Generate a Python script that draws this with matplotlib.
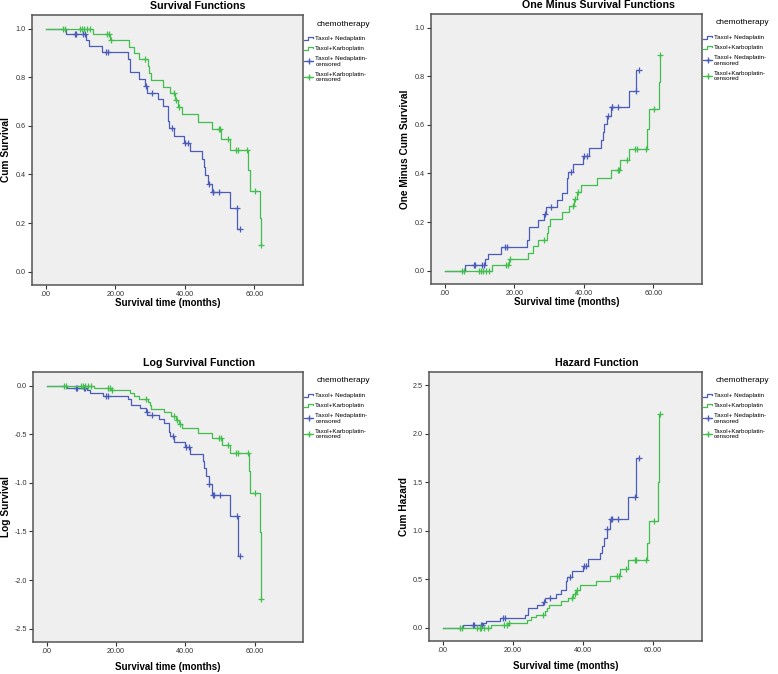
import numpy as np
import matplotlib
matplotlib.use("Agg")
import matplotlib.pyplot as plt
from matplotlib.lines import Line2D
from matplotlib.legend_handler import HandlerBase

plt.rcParams['font.family'] = ['Liberation Sans', 'DejaVu Sans']

# ---------------- data ----------------
groups = ["Taxol+ Nedaplatin", "Taxol+Karboplatin"]

ned_event_t = [5.8, 11.6, 12.4, 16.2, 23.6, 24.3, 26.9, 28.7, 29.1, 32.4, 33.8,
               35.3, 35.6, 36.9, 39.9, 41.5, 45.0, 45.4, 45.9, 46.8, 47.8, 53.0, 55.1]
ned_event_s = [0.977, 0.953, 0.930, 0.903, 0.873, 0.820, 0.792, 0.765, 0.737, 0.709, 0.680,
               0.620, 0.593, 0.560, 0.530, 0.495, 0.462, 0.429, 0.396, 0.362, 0.326, 0.261, 0.174]
ned_censor_t = [8.5, 8.8, 10.8, 11.2, 17.2, 17.8, 28.9, 30.5, 36.4, 40.2, 41.0,
                46.9, 48.0, 48.2, 49.9, 54.9, 55.9]

kar_event_t = [13.7, 18.6, 24.0, 25.3, 26.7, 29.3, 29.7, 30.2, 33.8, 35.8, 37.2,
               38.1, 39.1, 43.7, 47.7, 50.5, 53.0, 58.3, 58.8, 61.5, 61.8]
kar_event_s = [0.977, 0.952, 0.926, 0.899, 0.873, 0.845, 0.817, 0.789, 0.760, 0.733, 0.706,
               0.677, 0.647, 0.617, 0.586, 0.545, 0.500, 0.417, 0.333, 0.222, 0.111]
kar_censor_t = [4.9, 5.6, 9.9, 10.5, 11.0, 11.9, 12.8, 17.6, 18.2, 18.9, 28.6, 36.9,
                37.6, 38.4, 49.8, 50.2, 52.3, 54.8, 55.3, 58.0, 60.2, 62.0]

x_ticks = [0, 20, 40, 60]
x_ticklabels = [".00", "20.00", "40.00", "60.00"]

W, H = 778, 674
BLUE = '#4a5cb8'
GREEN = '#40bf4c'


def step_at(t_events, s_events, t):
    s = 1.0
    for te, se in zip(t_events, s_events):
        if te <= t:
            s = se
    return s


def curve(t_events, s_events, t_end):
    t = [0.0] + list(t_events) + [t_end]
    s = [1.0] + list(s_events) + [s_events[-1]]
    return np.array(t), np.array(s)


transforms = {
    "surv": lambda s: s,
    "one": lambda s: 1 - s,
    "log": lambda s: np.log(s),
    "haz": lambda s: -np.log(s),
}

panels = [
    ("surv", "Survival Functions", "Cum Survival", (32, 15, 303, 285), (-0.055, 1.056),
     [0, 0.2, 0.4, 0.6, 0.8, 1.0], (198, 6), 6, 303),
    ("one", "One Minus Survival Functions", "One Minus Cum Survival", (431, 14, 702, 284),
     (-0.055, 1.056), [0, 0.2, 0.4, 0.6, 0.8, 1.0], (598, 5), 405, 302),
    ("log", "Log Survival Function", "Log Survival", (33, 372, 303, 642), (-2.637, 0.141),
     [-2.5, -2.0, -1.5, -1.0, -0.5, 0.0], (199, 363), 6, 667),
    ("haz", "Hazard Function", "Cum Hazard", (429, 372, 702, 641), (-0.137, 2.634),
     [0, 0.5, 1.0, 1.5, 2.0, 2.5], (597, 363), 404, 666),
]

fig = plt.figure(figsize=(W / 100, H / 100), dpi=100)
fig.patch.set_facecolor('white')


class StepHandler(HandlerBase):
    def create_artists(self, legend, orig_handle, xdescent, ydescent, width, height,
                       fontsize, trans):
        xs = np.array([0.0, 0.45, 0.45, 0.95, 0.95]) * width - xdescent
        ys = np.array([0.15, 0.15, 0.85, 0.85, 0.55]) * height - ydescent
        ln = Line2D(xs, ys, color=orig_handle.get_color(), lw=0.9, transform=trans)
        return [ln]


for key, title, ylabel, (l, t, r, b), ylim, yticks, (tx, ty), ylx, xly in panels:
    ax = fig.add_axes([l / W, 1 - b / H, (r - l) / W, (b - t) / H])
    ax.set_facecolor('#efefef')
    f = transforms[key]
    for (et, es, ct, col, end) in [(ned_event_t, ned_event_s, ned_censor_t, BLUE, 55.9),
                                   (kar_event_t, kar_event_s, kar_censor_t, GREEN, 62.0)]:
        tt, ss = curve(et, es, end)
        ax.step(tt, f(ss), where='post', color=col, lw=0.9)
        cs = np.array([step_at(et, es, c) for c in ct])
        ax.plot(ct, f(cs), linestyle='none', marker='+', color=col, markersize=4,
                markeredgewidth=0.9)
    ax.set_xlim(-3.94, 74)
    ax.set_ylim(*ylim)
    ax.set_xticks(x_ticks)
    ax.set_xticklabels(x_ticklabels, fontsize=5.2)
    ax.set_yticks(yticks)
    ax.set_yticklabels([f"{v:.1f}" for v in yticks], fontsize=5.2)
    ax.tick_params(direction='out', length=3, width=0.8, pad=1.5, colors='#333333')
    for sp in ax.spines.values():
        sp.set_color('#555555')
        sp.set_linewidth(1.1)

    fig.text(tx / W, 1 - ty / H, title, ha='center', va='center', fontsize=7.7,
             fontweight='bold')
    fig.text(ylx / W, 1 - ((t + b) / 2) / H, ylabel, ha='center', va='center',
             rotation=90, fontsize=7.3, fontweight='bold')
    fig.text(((l + r) / 2) / W, 1 - xly / H, "Survival time (months)", ha='center',
             va='center', fontsize=7.0, fontweight='bold')

    # legend title
    fig.text((r + 40) / W, 1 - (t + 9) / H, "chemotherapy", ha='center', va='center',
             fontsize=6)
    handles = [Line2D([], [], color=BLUE), Line2D([], [], color=GREEN),
               Line2D([0], [0], color=BLUE, marker='+', lw=0.9, markersize=5),
               Line2D([0], [0], color=GREEN, marker='+', lw=0.9, markersize=5)]
    labels = [groups[0], groups[1], groups[0] + "-\ncensored", groups[1] + "-\ncensored"]
    fig.legend(handles, labels, loc='upper left',
               bbox_to_anchor=((r + 1) / W, 1 - (t + 21) / H),
               frameon=False, fontsize=4.5, handlelength=1.5,
               handletextpad=0.3, labelspacing=0.75, borderaxespad=0,
               borderpad=0.0,
               handler_map={handles[0]: StepHandler(), handles[1]: StepHandler()})

fig.savefig("out.png", dpi=100)
